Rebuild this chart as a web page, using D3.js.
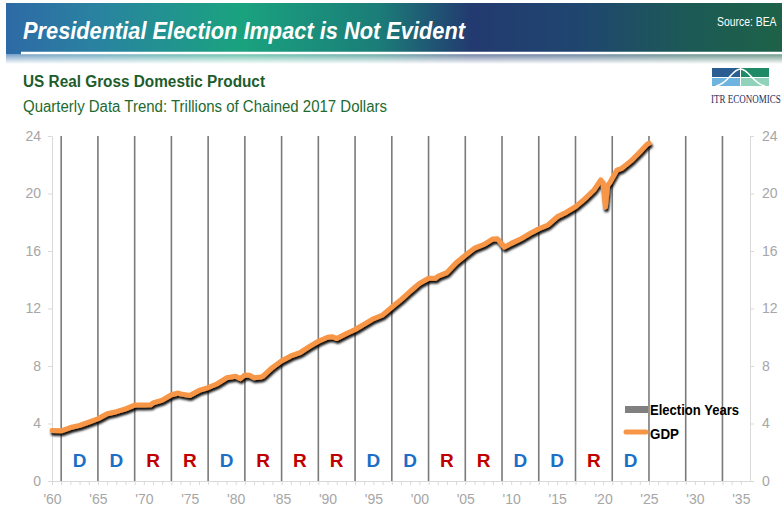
<!DOCTYPE html>
<html>
<head>
<meta charset="utf-8">
<script src="https://cdn.jsdelivr.net/npm/d3@7"></script>
<style>
  body { margin: 0; background: #fff; }
  text { font-family: "Liberation Sans", Arial, sans-serif; }
</style>
</head>
<body>
<svg id="chart"></svg>
<script>
// quarterly GDP readings (decimal year, trillions of chained 2017 $)
var quarters = [1960.0, 1961.0, 1962.0, 1963.0, 1964.0, 1965.0, 1966.0, 1967.0, 1968.0, 1969.0,
  1970.0, 1970.75, 1971.0, 1972.0, 1973.0, 1973.75, 1974.0, 1975.0, 1976.0, 1977.0,
  1978.0, 1979.0, 1980.0, 1980.5, 1981.0, 1981.5, 1982.0, 1982.75, 1983.0, 1984.0,
  1985.0, 1986.0, 1987.0, 1988.0, 1989.0, 1990.0, 1990.5, 1991.0, 1992.0, 1993.0,
  1994.0, 1995.0, 1996.0, 1997.0, 1998.0, 1999.0, 2000.0, 2001.0, 2001.75, 2002.0,
  2003.0, 2004.0, 2005.0, 2006.0, 2007.0, 2008.0, 2008.5, 2009.25, 2010.0, 2011.0,
  2012.0, 2013.0, 2014.0, 2015.0, 2016.0, 2017.0, 2018.0, 2019.0, 2019.75, 2020.0,
  2020.25, 2020.5, 2020.75, 2021.0, 2021.5, 2022.0, 2023.0, 2024.0, 2024.75, 2025.0];
var gdp = [3.52, 3.49, 3.72, 3.87, 4.10, 4.33, 4.68, 4.82, 5.02, 5.28,
  5.29, 5.30, 5.43, 5.63, 6.00, 6.12, 6.06, 5.95, 6.30, 6.50,
  6.77, 7.18, 7.29, 7.12, 7.38, 7.35, 7.19, 7.23, 7.31, 7.90,
  8.36, 8.70, 8.93, 9.35, 9.72, 10.00, 10.04, 9.91, 10.24, 10.54,
  10.92, 11.29, 11.55, 12.10, 12.62, 13.20, 13.75, 14.10, 14.10, 14.24,
  14.50, 15.18, 15.70, 16.20, 16.45, 16.84, 16.85, 16.27, 16.53, 16.83,
  17.21, 17.55, 17.81, 18.38, 18.70, 19.09, 19.63, 20.24, 20.95, 20.69,
  19.06, 20.55, 20.77, 21.06, 21.62, 21.74, 22.25, 22.89, 23.40, 23.50];

var electionLines = [1961, 1965, 1969, 1973, 1977, 1981, 1985, 1989, 1993, 1997,
  2001, 2005, 2009, 2013, 2017, 2021, 2025, 2029, 2033];
var parties = ['D', 'D', 'R', 'R', 'D', 'R', 'R', 'R', 'D', 'D', 'R', 'R', 'D', 'D', 'R', 'D'];
var yTicks = [0, 4, 8, 12, 16, 20, 24];
var xLabelYears = [1960, 1965, 1970, 1975, 1980, 1985, 1990, 1995, 2000, 2005, 2010, 2015, 2020, 2025, 2030, 2035];
var xLabels = ["'60", "'65", "'70", "'75", "'80", "'85", "'90", "'95", "'00", "'05", "'10", "'15", "'20", "'25", "'30", "'35"];

var W = 782, H = 506;
var svg = d3.select('#chart').attr('width', W).attr('height', H);
var defs = svg.append('defs');

// banner gradient
var bg = defs.append('linearGradient').attr('id', 'banner');
[[0, '#2e6aa6'], [0.12, '#2983a0'], [0.3, '#1aa37f'], [0.48, '#1b7d78'],
 [0.6, '#233a70'], [0.74, '#1f466f'], [0.88, '#1c5a55'], [1, '#1d6248']].forEach(function (s) {
  bg.append('stop').attr('offset', s[0]).attr('stop-color', s[1]);
});
var fade = defs.append('linearGradient').attr('id', 'fade').attr('x1', 0).attr('y1', 0).attr('x2', 0).attr('y2', 1);
fade.append('stop').attr('offset', 0).attr('stop-color', '#fff').attr('stop-opacity', 0.35);
fade.append('stop').attr('offset', 1).attr('stop-color', '#fff').attr('stop-opacity', 1);

var sh = defs.append('filter').attr('id', 'shadow').attr('x', '-5%').attr('y', '-5%').attr('width', '110%').attr('height', '110%');
sh.append('feDropShadow').attr('dx', 1.2).attr('dy', 2.8).attr('stdDeviation', 1)
  .attr('flood-color', '#000').attr('flood-opacity', 0.95);

// header
svg.append('rect').attr('x', 6).attr('y', 3).attr('width', W - 6).attr('height', 51).attr('fill', 'url(#banner)');
svg.append('rect').attr('x', 6).attr('y', 54).attr('width', W - 6).attr('height', 10).attr('fill', 'url(#banner)');
svg.append('rect').attr('x', 6).attr('y', 54).attr('width', W - 6).attr('height', 10).attr('fill', 'url(#fade)');
svg.append('line').attr('x1', 21).attr('x2', W).attr('y1', 53).attr('y2', 53)
  .attr('stroke', '#fff').attr('stroke-width', 2.5);
svg.append('text').attr('x', 23).attr('y', 39).attr('fill', '#fff')
  .attr('font-size', 23).attr('font-weight', 'bold').attr('font-style', 'italic')
  .attr('textLength', 442).attr('lengthAdjust', 'spacingAndGlyphs')
  .text('Presidential Election Impact is Not Evident');
// narrow corner texts are squeezed with a transform so their box stays inside the page
svg.append('text').attr('transform', 'translate(717,26) scale(0.8,1)').attr('fill', '#fff').attr('font-size', 13)
  .text('Source: BEA');

svg.append('text').attr('x', 23).attr('y', 87).attr('fill', '#1d5c2c')
  .attr('font-size', 16).attr('font-weight', 'bold')
  .attr('textLength', 242).attr('lengthAdjust', 'spacingAndGlyphs')
  .text('US Real Gross Domestic Product');
svg.append('text').attr('x', 23).attr('y', 112).attr('fill', '#1d6a30')
  .attr('font-size', 16)
  .attr('textLength', 364).attr('lengthAdjust', 'spacingAndGlyphs')
  .text('Quarterly Data Trend: Trillions of Chained 2017 Dollars');

// logo
var logo = svg.append('g').attr('transform', 'translate(712,68)');
logo.append('rect').attr('x', 0).attr('y', 0).attr('width', 28).attr('height', 9).attr('fill', '#2a5e93');
logo.append('rect').attr('x', 29).attr('y', 0).attr('width', 28).attr('height', 9).attr('fill', '#1f8a66');
logo.append('rect').attr('x', 0).attr('y', 10).attr('width', 28).attr('height', 8).attr('fill', '#6fb3e0');
logo.append('rect').attr('x', 29).attr('y', 10).attr('width', 28).attr('height', 8).attr('fill', '#90d3ba');
logo.append('path').attr('d', 'M4,18 C16,16 20,1 28.5,1 C37,1 41,16 53,18')
  .attr('fill', 'none').attr('stroke', '#fff').attr('stroke-width', 1.5);
svg.append('text').attr('transform', 'translate(711,103) scale(0.72,1)').attr('fill', '#1b2f5e')
  .style('font-family', '"Liberation Serif", "Times New Roman", serif')
  .attr('font-size', 12.5)
  .text('ITR ECONOMICS');

// scales
var x = d3.scaleLinear().domain([1960, 2036]).range([52, 750]);
var y = d3.scaleLinear().domain([0, 24]).range([481, 136]);

function styleAxis(g) {
  g.select('.domain').attr('stroke', '#d9d9d9');
  g.selectAll('.tick line').attr('stroke', '#d9d9d9');
  g.selectAll('.tick text').attr('fill', '#a6a6a6').attr('font-size', 14)
    .attr('font-family', '"Liberation Sans", Arial, sans-serif');
}

svg.append('g').attr('transform', 'translate(52,0)')
  .call(d3.axisLeft(y).tickValues(yTicks).tickSize(4).tickPadding(7).tickSizeOuter(0))
  .call(styleAxis);
svg.append('g').attr('transform', 'translate(750,0)')
  .call(d3.axisRight(y).tickValues(yTicks).tickSize(4).tickPadding(8).tickSizeOuter(0))
  .call(styleAxis);
svg.append('g').attr('transform', 'translate(0,481)')
  .call(d3.axisBottom(x).tickValues(d3.range(1960, 2036)).tickSize(4).tickPadding(9).tickSizeOuter(0)
    .tickFormat(function (d) { var i = xLabelYears.indexOf(d); return i < 0 ? '' : xLabels[i]; }))
  .call(styleAxis);

// election lines
svg.append('g').selectAll('line').data(electionLines).enter().append('line')
  .attr('x1', function (d) { return x(d); }).attr('x2', function (d) { return x(d); })
  .attr('y1', y(24)).attr('y2', y(0))
  .attr('stroke', '#7a7a7a').attr('stroke-width', 1.6);

// party letters
svg.append('g').selectAll('text').data(parties).enter().append('text')
  .attr('x', function (d, i) { return (x(electionLines[i]) + x(electionLines[i + 1])) / 2; })
  .attr('y', 467).attr('text-anchor', 'middle')
  .attr('font-size', 19).attr('font-weight', 'bold')
  .attr('fill', function (d) { return d == 'D' ? '#1c6fc6' : '#c00000'; })
  .text(function (d) { return d; });

// GDP line
var pts = quarters.map(function (q, i) { return [q, gdp[i]]; });
svg.append('path').datum(pts)
  .attr('d', d3.line().x(function (d) { return x(d[0]); }).y(function (d) { return y(d[1]); }))
  .attr('fill', 'none').attr('stroke', '#f79646').attr('stroke-width', 5)
  .attr('stroke-linejoin', 'round').attr('stroke-linecap', 'round')
  .attr('filter', 'url(#shadow)');

// legend
svg.append('rect').attr('x', 625).attr('y', 406).attr('width', 23).attr('height', 7).attr('fill', '#808080');
svg.append('text').attr('x', 650).attr('y', 415).attr('font-size', 15).attr('font-weight', 'bold')
  .attr('fill', '#000').attr('textLength', 89).attr('lengthAdjust', 'spacingAndGlyphs').text('Election Years');
svg.append('line').attr('x1', 626).attr('x2', 646).attr('y1', 432).attr('y2', 432)
  .attr('stroke', '#f79646').attr('stroke-width', 5).attr('stroke-linecap', 'round');
svg.append('text').attr('x', 650).attr('y', 439).attr('font-size', 15).attr('font-weight', 'bold')
  .attr('fill', '#000').attr('textLength', 29).attr('lengthAdjust', 'spacingAndGlyphs').text('GDP');
</script>
</body>
</html>
